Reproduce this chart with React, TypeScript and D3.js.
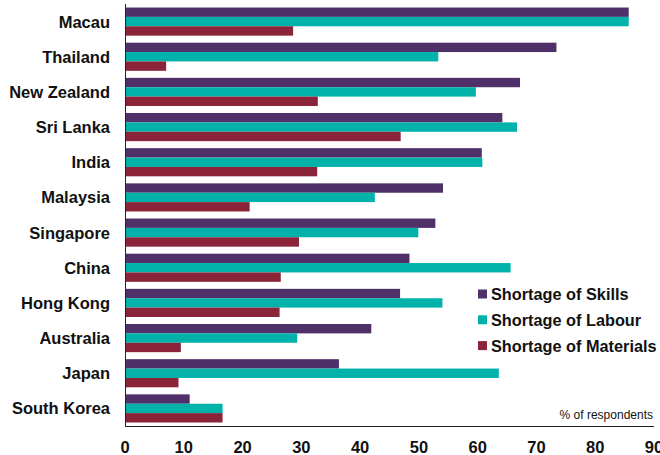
import React from "react";
import { scaleBand, scaleLinear } from "d3";

const countries = [
  "Macau",
  "Thailand",
  "New Zealand",
  "Sri Lanka",
  "India",
  "Malaysia",
  "Singapore",
  "China",
  "Hong Kong",
  "Australia",
  "Japan",
  "South Korea",
];

const skills = [85.7, 73.4, 67.2, 64.2, 60.7, 54.1, 52.8, 48.4, 46.8, 41.9, 36.4, 11.0];
const labour = [85.7, 53.3, 59.7, 66.7, 60.8, 42.5, 49.9, 65.6, 54.0, 29.3, 63.6, 16.6];
const materials = [28.6, 7.0, 32.8, 46.9, 32.7, 21.2, 29.6, 26.5, 26.3, 9.5, 9.1, 16.6];

const seriesNames = ["Shortage of Skills", "Shortage of Labour", "Shortage of Materials"];
const seriesColors = ["#4f3069", "#00b2a9", "#8b2339"];
const xTicks = [0, 10, 20, 30, 40, 50, 60, 70, 80, 90];

const width = 660;
const height = 455;
const left = 125;
const right = 654;
const top = 4;
const bottom = 426;

const font = "'Liberation Sans', Arial, sans-serif";

const App = () => {
  const series = [skills, labour, materials];

  const xScale = scaleLinear().domain([0, 90]).range([left, right]);

  const yScale = scaleBand()
    .domain(countries)
    .range([top, bottom])
    .paddingInner(0.2)
    .paddingOuter(0.1);

  const inner = scaleBand()
    .domain(seriesNames)
    .range([0, yScale.bandwidth()]);

  return (
    <svg
      width={width}
      height={height}
      style={{ position: "absolute", left: 0, top: 0, background: "#fff" }}
    >
      {countries.map((c, i) => (
        <g key={c} transform={`translate(0,${yScale(c)})`}>
          {series.map((vals, s) => (
            <rect
              key={s}
              x={xScale(0)}
              y={inner(seriesNames[s])}
              width={xScale(vals[i]) - xScale(0)}
              height={inner.bandwidth()}
              fill={seriesColors[s]}
            />
          ))}
          <text
            x={110}
            y={yScale.bandwidth() / 2}
            textAnchor="end"
            dominantBaseline="central"
            fontFamily={font}
            fontWeight="bold"
            fontSize={16.5}
            fill="#111"
          >
            {c}
          </text>
        </g>
      ))}

      {/* axes */}
      <line x1={left + 0.5} x2={left + 0.5} y1={top} y2={bottom} stroke="#222" />
      <line x1={left} x2={right} y1={bottom + 0.5} y2={bottom + 0.5} stroke="#222" />

      {xTicks.map((t) => (
        <text
          key={t}
          x={xScale(t)}
          y={453}
          textAnchor="middle"
          fontFamily={font}
          fontWeight="bold"
          fontSize={16.5}
          fill="#111"
        >
          {t}
        </text>
      ))}

      <text
        x={right - 1}
        y={419}
        textAnchor="end"
        fontFamily={font}
        fontSize={12}
        fill="#111"
      >
        % of respondents
      </text>

      {/* legend */}
      {seriesNames.map((name, s) => (
        <g key={name} transform={`translate(478,${294 + s * 25.8})`}>
          <rect x={0} y={-4.5} width={9} height={9} fill={seriesColors[s]} />
          <text
            x={13}
            y={0}
            dominantBaseline="central"
            fontFamily={font}
            fontWeight="bold"
            fontSize={16.3}
            fill="#111"
          >
            {name}
          </text>
        </g>
      ))}
    </svg>
  );
};

export default App;
